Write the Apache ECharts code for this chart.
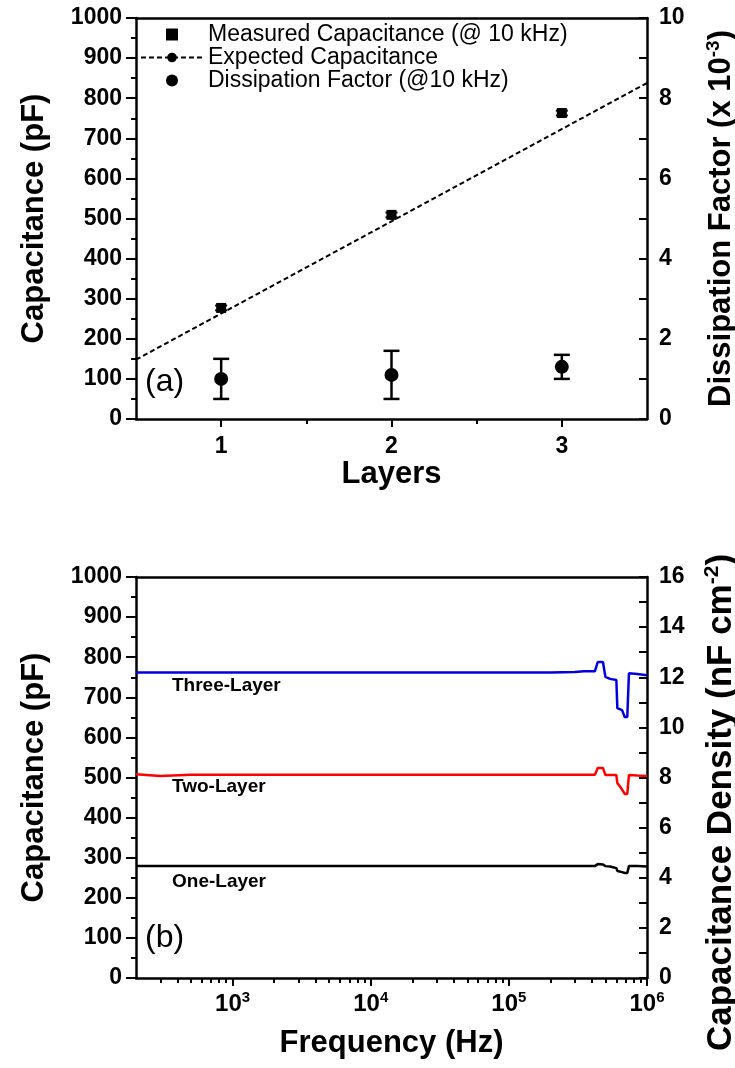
<!DOCTYPE html>
<html>
<head>
<meta charset="utf-8">
<script src="https://cdn.jsdelivr.net/npm/echarts@6/dist/echarts.min.js"></script>
<style>
  html, body { margin: 0; padding: 0; background: #fff; }
  #chart { width: 735px; height: 1068px; }
</style>
</head>
<body>
<div id="chart"></div>
<script>
// (a) capacitance and dissipation factor versus number of layers
const layers = [1, 2, 3];
const measuredCap = [277, 509, 763];
const measuredErr = [6, 6, 6];
const expectedX = [0.5, 3.5];
const expectedCap = [148, 838];
const dissipation = [1.0, 1.1, 1.3];
const dissLow = [0.5, 0.5, 1.0];
const dissHigh = [1.5, 1.7, 1.6];

// (b) capacitance versus frequency
const freq = [200, 300, 500, 1000, 2000, 5000, 10000, 20000, 50000, 100000, 200000, 300000,
  350000, 420000, 440000, 480000, 500000, 540000, 600000, 610000, 660000, 690000, 720000,
  740000, 850000, 1000000];
const capThree = [762, 762, 762, 762, 762, 762, 762, 762, 762, 762, 762, 763,
  765, 765, 788, 788, 751, 746, 743, 673, 668, 651, 651,
  760, 758, 755];
const capTwo = [508, 504, 507, 507, 507, 507, 507, 507, 507, 507, 507, 507,
  507, 507, 524, 524, 506, 506, 506, 486, 470, 459, 459,
  506, 505, 504];
const capOne = [279, 279, 279, 279, 279, 279, 279, 279, 279, 279, 279, 279,
  279, 279, 284, 283, 279, 278, 274, 267, 264, 262, 262,
  279, 279, 278];

// frequency axis ticks
const freqMajor = [1e3, 1e4, 1e5, 1e6];
const freqMinor = [];
[100, 1000, 10000, 100000].forEach(function (d) {
  for (let k = 2; k <= 9; k++) {
    const v = k * d;
    if (v >= 300 && v < 1e6) freqMinor.push(v);
  }
});

const FONT = '"Liberation Sans", Arial, sans-serif';
const AXIS_W = 2.5;

const chart = echarts.init(document.getElementById('chart'), null, { renderer: 'canvas' });

function errorBars(capHalf, lw) {
  return function (params, api) {
    const x = api.value(0);
    const lo = api.coord([x, api.value(1)]);
    const hi = api.coord([x, api.value(2)]);
    const style = { stroke: '#000', lineWidth: lw };
    return {
      type: 'group',
      children: [
        { type: 'line', shape: { x1: lo[0], y1: lo[1], x2: hi[0], y2: hi[1] }, style: style },
        { type: 'line', shape: { x1: lo[0] - capHalf, y1: lo[1], x2: lo[0] + capHalf, y2: lo[1] }, style: style },
        { type: 'line', shape: { x1: hi[0] - capHalf, y1: hi[1], x2: hi[0] + capHalf, y2: hi[1] }, style: style }
      ]
    };
  };
}

const axisLine = { show: true, onZero: false, lineStyle: { color: '#000', width: AXIS_W } };
const tickLabel = { color: '#000', fontFamily: FONT, fontWeight: 'bold', fontSize: 23 };
const titleStyle = { color: '#000', fontFamily: FONT, fontWeight: 'bold', fontSize: 31 };
const plain = function (v) { return String(v); };

function leftCapAxis(gridIndex) {
  return {
    gridIndex: gridIndex, type: 'value', position: 'left', min: 0, max: 1000, interval: 100,
    axisLine: axisLine,
    axisTick: { show: true, inside: false, length: 10, lineStyle: { color: '#000', width: 2 } },
    minorTick: { show: true, splitNumber: 2, length: 5, lineStyle: { color: '#000', width: 2 } },
    axisLabel: Object.assign({ margin: 14, formatter: plain }, tickLabel),
    splitLine: { show: false },
    name: 'Capacitance (pF)', nameLocation: 'middle', nameRotate: 90, nameGap: 86,
    nameTextStyle: titleStyle
  };
}

function supRich(size) {
  return {
    t: { fontFamily: FONT, fontWeight: 'bold', fontSize: size, color: '#000', lineHeight: size + 4 },
    s: { fontFamily: FONT, fontWeight: 'bold', fontSize: Math.round(size * 0.6), color: '#000', lineHeight: size + 4,
         verticalAlign: 'top', padding: [0, 0, Math.round(size * 0.4), 0] }
  };
}

function rightAxis(gridIndex, max, labels, name, size, gap, pad) {
  return {
    gridIndex: gridIndex, type: 'value', position: 'right', min: 0, max: max, interval: 1,
    axisLine: axisLine,
    axisTick: { show: true, inside: true, length: 8, lineStyle: { color: '#000', width: 2 } },
    axisLabel: Object.assign({ margin: 12, customValues: labels, formatter: plain }, tickLabel),
    splitLine: { show: false },
    name: name, nameLocation: 'middle', nameRotate: 90, nameGap: gap,
    nameTextStyle: Object.assign({}, titleStyle, { fontSize: size, rich: supRich(size), padding: pad })
  };
}

function topBorder(gridIndex, type, min, max) {
  return {
    gridIndex: gridIndex, type: type, position: 'top', min: min, max: max,
    axisLine: axisLine, axisTick: { show: false }, axisLabel: { show: false }, splitLine: { show: false }
  };
}

const option = {
  animation: false,
  backgroundColor: '#fff',
  grid: [
    { left: 136, right: 88, top: 18, height: 401, outerBoundsMode: 'none', containLabel: false },
    { left: 136, right: 88, top: 577, height: 401, outerBoundsMode: 'none', containLabel: false }
  ],
  legend: {
    left: 140, top: 23, padding: 0, orient: 'vertical', itemWidth: 62, itemHeight: 12, itemGap: 0,
    selectedMode: false,
    textStyle: { color: '#000', fontFamily: FONT, fontSize: 23, lineHeight: 23 },
    data: [
      { name: 'Measured Capacitance (@ 10 kHz)', icon: 'path://M0,0L10,0L10,10L0,10Z', itemStyle: { opacity: 1 } },
      { name: 'Expected Capacitance' },
      { name: 'Dissipation Factor (@10 kHz)', icon: 'circle', itemStyle: { opacity: 1 } }
    ]
  },
  xAxis: [
    {
      gridIndex: 0, type: 'value', position: 'bottom', min: 0.5, max: 3.5, interval: 0.5,
      axisLine: axisLine,
      axisTick: { show: true, length: 8, customValues: layers, lineStyle: { color: '#000', width: 2 } },
      axisLabel: Object.assign({ margin: 16, customValues: layers }, tickLabel),
      splitLine: { show: false },
      name: 'Layers', nameLocation: 'middle', nameGap: 40, nameTextStyle: titleStyle
    },
    {
      gridIndex: 0, type: 'value', position: 'bottom', min: 0.5, max: 3.5, interval: 0.5,
      axisLine: { show: false },
      axisTick: { show: true, length: 5, customValues: [1.5, 2.5], lineStyle: { color: '#000', width: 2 } },
      axisLabel: { show: false }, splitLine: { show: false }
    },
    topBorder(0, 'value', 0.5, 3.5),
    {
      gridIndex: 1, type: 'log', logBase: 10, position: 'bottom', min: 200, max: 1e6,
      axisLine: axisLine,
      axisTick: { show: true, length: 8, customValues: freqMajor, lineStyle: { color: '#000', width: 2 } },
      axisLabel: Object.assign({
        margin: 12, customValues: freqMajor,
        formatter: function (v) { return '{b|10}{s|' + Math.round(Math.log10(v)) + '}'; },
        rich: {
          b: { fontFamily: FONT, fontWeight: 'bold', fontSize: 24, color: '#000', lineHeight: 28 },
          s: { fontFamily: FONT, fontWeight: 'bold', fontSize: 15, color: '#000', lineHeight: 28, verticalAlign: 'top', padding: [0, 0, 8, 0] }
        }
      }, tickLabel),
      splitLine: { show: false },
      name: 'Frequency (Hz)', nameLocation: 'middle', nameGap: 50, nameTextStyle: titleStyle
    },
    {
      gridIndex: 1, type: 'log', logBase: 10, position: 'bottom', min: 200, max: 1e6,
      axisLine: { show: false },
      axisTick: { show: true, length: 5, customValues: freqMinor, lineStyle: { color: '#000', width: 2 } },
      axisLabel: { show: false }, splitLine: { show: false }
    },
    topBorder(1, 'log', 200, 1e6)
  ],
  yAxis: [
    leftCapAxis(0),
    rightAxis(0, 10, [0, 2, 4, 6, 8, 10], '{t|Dissipation Factor (x 10}{s|-3}{t|)}', 31, 57, [0, 0, 0, 0]),
    leftCapAxis(1),
    rightAxis(1, 16, [0, 2, 4, 6, 8, 10, 12, 14, 16], '{t|Capacitance Density (nF cm}{s|-2}{t|)}', 35, 55, [0, 50, 0, 0])
  ],
  series: [
    {
      name: 'Expected Capacitance', type: 'line', xAxisIndex: 0, yAxisIndex: 0,
      data: expectedX.map(function (x, i) { return [x, expectedCap[i]]; }),
      symbol: 'none', symbolSize: 4, lineStyle: { color: '#000', width: 2, type: [5, 3] }, itemStyle: { color: '#000' },
      z: 2
    },
    {
      name: 'measuredErr', type: 'custom', xAxisIndex: 0, yAxisIndex: 0,
      data: layers.map(function (x, i) { return [x, measuredCap[i] - measuredErr[i], measuredCap[i] + measuredErr[i]]; }),
      encode: { x: 0, y: [1, 2] },
      renderItem: errorBars(6, 2), z: 3
    },
    {
      name: 'Measured Capacitance (@ 10 kHz)', type: 'scatter', xAxisIndex: 0, yAxisIndex: 0,
      data: layers.map(function (x, i) { return [x, measuredCap[i]]; }),
      symbol: 'rect', symbolSize: 10, itemStyle: { color: '#000', opacity: 1 }, z: 4
    },
    {
      name: 'dissErr', type: 'custom', xAxisIndex: 0, yAxisIndex: 1,
      data: layers.map(function (x, i) { return [x, dissLow[i], dissHigh[i]]; }),
      encode: { x: 0, y: [1, 2] },
      renderItem: errorBars(8, 2.5), z: 3
    },
    {
      name: 'Dissipation Factor (@10 kHz)', type: 'scatter', xAxisIndex: 0, yAxisIndex: 1,
      data: layers.map(function (x, i) { return [x, dissipation[i]]; }),
      symbol: 'circle', symbolSize: 14, itemStyle: { color: '#000', opacity: 1 }, z: 4
    },
    {
      name: 'Three-Layer', type: 'line', xAxisIndex: 3, yAxisIndex: 2,
      data: freq.map(function (f, i) { return [f, capThree[i]]; }),
      symbol: 'none', lineStyle: { color: '#0000e0', width: 2.5 }
    },
    {
      name: 'Two-Layer', type: 'line', xAxisIndex: 3, yAxisIndex: 2,
      data: freq.map(function (f, i) { return [f, capTwo[i]]; }),
      symbol: 'none', lineStyle: { color: '#ff0000', width: 2.5 }
    },
    {
      name: 'One-Layer', type: 'line', xAxisIndex: 3, yAxisIndex: 2,
      data: freq.map(function (f, i) { return [f, capOne[i]]; }),
      symbol: 'none', lineStyle: { color: '#000', width: 2.5 }
    }
  ],
  graphic: [
    { type: 'text', left: 145, top: 366, style: { text: '(a)', font: '32px ' + FONT, fill: '#000' } },
    { type: 'text', left: 145, top: 922, style: { text: '(b)', font: '32px ' + FONT, fill: '#000' } },
    { type: 'text', left: 172, top: 676, style: { text: 'Three-Layer', font: 'bold 19px ' + FONT, fill: '#000' } },
    { type: 'text', left: 172, top: 777, style: { text: 'Two-Layer', font: 'bold 19px ' + FONT, fill: '#000' } },
    { type: 'text', left: 172, top: 872, style: { text: 'One-Layer', font: 'bold 19px ' + FONT, fill: '#000' } }
  ]
};

chart.setOption(option);
</script>
</body>
</html>
